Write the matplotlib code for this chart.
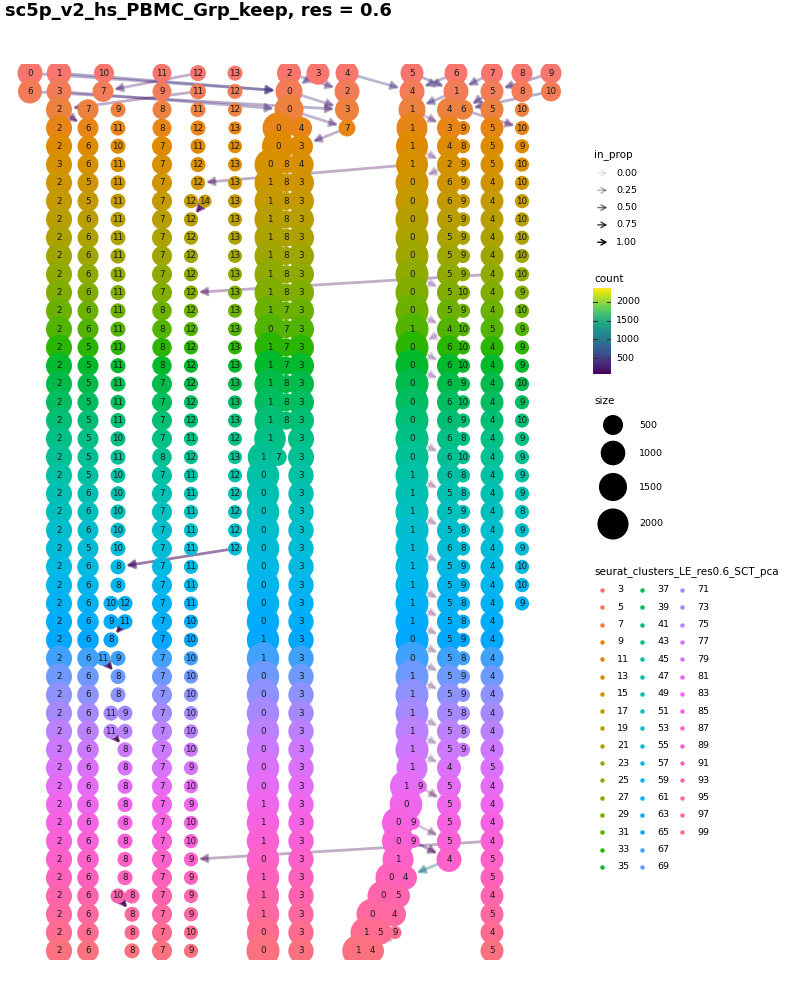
import numpy as np
import matplotlib
matplotlib.use("Agg")
import matplotlib.pyplot as plt
from matplotlib.patches import FancyArrowPatch
from matplotlib.colors import Normalize
from matplotlib.colorbar import ColorbarBase

# ---- data (one row per clustering run, top to bottom) ----
row_names = [str(v) for v in range(3, 100, 2)]

node_labels = [
    ["0", "1", "10", "11", "12", "13", "2", "3", "4", "5", "6", "7", "8", "9"],
    ["6", "3", "7", "9", "11", "12", "0", "2", "4", "1", "5", "8", "10"],
    ["2", "7", "9", "8", "11", "12", "0", "3", "1", "4", "6", "5", "10"],
    ["2", "6", "11", "8", "12", "13", "0", "4", "7", "1", "3", "9", "5", "10"],
    ["2", "6", "10", "7", "11", "12", "0", "3", "1", "4", "8", "5", "9"],
    ["3", "6", "11", "7", "12", "13", "0", "8", "4", "1", "2", "9", "5", "10"],
    ["2", "5", "11", "7", "12", "13", "1", "8", "3", "0", "6", "9", "4", "10"],
    ["2", "5", "11", "7", "12", "14", "13", "1", "8", "3", "0", "6", "9", "4", "10"],
    ["2", "6", "11", "7", "12", "13", "1", "8", "3", "0", "5", "9", "4", "10"],
    ["2", "6", "11", "7", "12", "13", "1", "8", "3", "0", "5", "9", "4", "10"],
    ["2", "6", "11", "7", "12", "13", "1", "8", "3", "0", "5", "9", "4", "10"],
    ["2", "6", "11", "7", "12", "13", "1", "8", "3", "0", "5", "9", "4", "10"],
    ["2", "6", "11", "7", "12", "13", "1", "8", "3", "0", "5", "10", "4", "9"],
    ["2", "6", "11", "8", "12", "13", "1", "7", "3", "0", "5", "9", "4", "10"],
    ["2", "6", "11", "8", "12", "13", "0", "7", "3", "1", "4", "10", "5", "9"],
    ["2", "5", "11", "8", "12", "13", "1", "7", "3", "0", "6", "10", "4", "9"],
    ["2", "5", "11", "8", "12", "13", "1", "7", "3", "0", "6", "10", "4", "9"],
    ["2", "5", "11", "7", "12", "13", "1", "8", "3", "0", "6", "9", "4", "10"],
    ["2", "5", "11", "7", "12", "13", "1", "8", "3", "0", "6", "10", "4", "9"],
    ["2", "5", "11", "7", "12", "13", "1", "8", "3", "0", "6", "9", "4", "10"],
    ["2", "5", "10", "7", "11", "12", "1", "3", "0", "6", "8", "4", "9"],
    ["2", "5", "11", "8", "12", "13", "1", "7", "3", "0", "6", "10", "4", "9"],
    ["2", "5", "10", "7", "11", "12", "0", "3", "1", "6", "8", "4", "9"],
    ["2", "6", "10", "7", "11", "12", "0", "3", "1", "5", "8", "4", "9"],
    ["2", "6", "10", "7", "11", "12", "0", "3", "1", "5", "9", "4", "8"],
    ["2", "6", "10", "7", "11", "12", "0", "3", "1", "5", "8", "4", "9"],
    ["2", "5", "10", "7", "11", "12", "0", "3", "1", "6", "8", "4", "9"],
    ["2", "6", "8", "7", "11", "0", "3", "1", "5", "9", "4", "10"],
    ["2", "6", "8", "7", "11", "0", "3", "1", "5", "9", "4", "10"],
    ["2", "6", "10", "12", "7", "11", "0", "3", "1", "5", "8", "4", "9"],
    ["2", "6", "9", "11", "7", "10", "0", "3", "1", "5", "8", "4"],
    ["2", "6", "8", "7", "10", "1", "3", "0", "5", "9", "4"],
    ["2", "6", "11", "9", "7", "10", "1", "3", "0", "5", "8", "4"],
    ["2", "6", "8", "7", "10", "0", "3", "1", "5", "9", "4"],
    ["2", "6", "8", "7", "10", "0", "3", "1", "5", "9", "4"],
    ["2", "6", "11", "9", "7", "10", "0", "3", "1", "5", "8", "4"],
    ["2", "6", "11", "9", "7", "10", "0", "3", "1", "5", "8", "4"],
    ["2", "6", "8", "7", "10", "0", "3", "1", "5", "9", "4"],
    ["2", "6", "8", "7", "9", "0", "3", "1", "4", "5"],
    ["2", "6", "8", "7", "10", "0", "3", "1", "9", "5", "4"],
    ["2", "6", "8", "7", "9", "1", "3", "0", "5", "4"],
    ["2", "6", "8", "7", "10", "1", "3", "0", "9", "5", "4"],
    ["2", "6", "8", "7", "10", "1", "3", "0", "9", "5", "4"],
    ["2", "6", "8", "7", "9", "0", "3", "1", "4", "5"],
    ["2", "6", "8", "7", "9", "1", "3", "0", "4", "5"],
    ["2", "6", "10", "8", "7", "9", "1", "3", "0", "5", "4"],
    ["2", "6", "8", "7", "9", "1", "3", "0", "4", "5"],
    ["2", "6", "8", "7", "10", "0", "3", "1", "5", "9", "4"],
    ["2", "6", "8", "7", "9", "0", "3", "1", "4", "5"],
]

# layout x of each node (tree layout units)
node_x = [
    [30, 59, 104, 162, 198, 235, 289, 318, 347, 412, 456, 492, 522, 551],
    [30, 59, 103, 162, 198, 235, 289, 347, 412, 456, 492, 522, 551],
    [59, 88, 118, 162, 198, 235, 289, 347, 412, 449, 463, 492, 522],
    [59, 88, 118, 162, 198, 235, 278, 301, 347, 412, 449, 463, 492, 522],
    [59, 88, 118, 162, 198, 235, 278, 301, 412, 449, 463, 492, 522],
    [59, 88, 118, 162, 198, 235, 270, 286, 301, 412, 449, 463, 492, 522],
    [59, 88, 118, 162, 198, 235, 270, 286, 301, 412, 449, 463, 492, 522],
    [59, 88, 118, 162, 191, 205, 235, 270, 286, 301, 412, 449, 463, 492, 522],
    [59, 88, 118, 162, 191, 235, 270, 286, 301, 412, 449, 463, 492, 522],
    [59, 88, 118, 162, 191, 235, 270, 286, 301, 412, 449, 463, 492, 522],
    [59, 88, 118, 162, 191, 235, 270, 286, 301, 412, 449, 463, 492, 522],
    [59, 88, 118, 162, 191, 235, 270, 286, 301, 412, 449, 463, 492, 522],
    [59, 88, 118, 162, 191, 235, 270, 286, 301, 412, 449, 463, 492, 522],
    [59, 88, 118, 162, 191, 235, 270, 286, 301, 412, 449, 463, 492, 522],
    [59, 88, 118, 162, 191, 235, 270, 286, 301, 412, 449, 463, 492, 522],
    [59, 88, 118, 162, 191, 235, 270, 286, 301, 412, 449, 463, 492, 522],
    [59, 88, 118, 162, 191, 235, 270, 286, 301, 412, 449, 463, 492, 522],
    [59, 88, 118, 162, 191, 235, 270, 286, 301, 412, 449, 463, 492, 522],
    [59, 88, 118, 162, 191, 235, 270, 286, 301, 412, 449, 463, 492, 522],
    [59, 88, 118, 162, 191, 235, 270, 286, 301, 412, 449, 463, 492, 522],
    [59, 88, 118, 162, 191, 235, 270, 301, 412, 449, 463, 492, 522],
    [59, 88, 118, 162, 191, 235, 263, 278, 301, 412, 449, 463, 492, 522],
    [59, 88, 118, 162, 191, 235, 263, 301, 412, 449, 463, 492, 522],
    [59, 88, 118, 162, 191, 235, 263, 301, 412, 449, 463, 492, 522],
    [59, 88, 118, 162, 191, 235, 263, 301, 412, 449, 463, 492, 522],
    [59, 88, 118, 162, 191, 235, 263, 301, 412, 449, 463, 492, 522],
    [59, 88, 118, 162, 191, 235, 263, 301, 412, 449, 463, 492, 522],
    [59, 88, 118, 162, 191, 263, 301, 412, 449, 463, 492, 522],
    [59, 88, 118, 162, 191, 263, 301, 412, 449, 463, 492, 522],
    [59, 88, 111, 125, 162, 191, 263, 301, 412, 449, 463, 492, 522],
    [59, 88, 111, 125, 162, 191, 263, 301, 412, 449, 463, 492],
    [59, 88, 111, 162, 191, 263, 301, 412, 449, 463, 492],
    [59, 88, 103, 118, 162, 191, 263, 301, 412, 449, 463, 492],
    [59, 88, 118, 162, 191, 263, 301, 412, 449, 463, 492],
    [59, 88, 118, 162, 191, 263, 301, 412, 449, 463, 492],
    [59, 88, 111, 125, 162, 191, 263, 301, 412, 449, 463, 492],
    [59, 88, 111, 125, 162, 191, 263, 301, 412, 449, 463, 492],
    [59, 88, 125, 162, 191, 263, 301, 412, 449, 463, 492],
    [59, 88, 125, 162, 191, 263, 301, 412, 449, 492],
    [59, 88, 125, 162, 191, 263, 301, 406, 420, 449, 492],
    [59, 88, 125, 162, 191, 263, 301, 406, 449, 492],
    [59, 88, 125, 162, 191, 263, 301, 398, 413, 449, 492],
    [59, 88, 125, 162, 191, 263, 301, 398, 413, 449, 492],
    [59, 88, 125, 162, 191, 263, 301, 398, 449, 492],
    [59, 88, 125, 162, 191, 263, 301, 391, 405, 492],
    [59, 88, 118, 132, 162, 191, 263, 301, 383, 398, 492],
    [59, 88, 132, 162, 191, 263, 301, 372, 394, 492],
    [59, 88, 132, 162, 191, 263, 301, 366, 380, 395, 492],
    [59, 88, 132, 162, 191, 263, 301, 358, 372, 492],
]

node_count = [
    [1050, 1000, 500, 410, 200, 150, 926, 806, 806, 806, 806, 700, 600, 600],
    [930, 1050, 590, 410, 200, 150, 1330, 1050, 1050, 1050, 806, 590, 500],
    [1190, 590, 150, 410, 150, 100, 1650, 926, 1330, 926, 500, 806, 110],
    [1190, 590, 150, 410, 150, 70, 1990, 700, 260, 1990, 926, 110, 806, 110],
    [1190, 590, 150, 500, 150, 100, 2180, 926, 2180, 926, 110, 806, 110],
    [1190, 590, 150, 500, 150, 100, 1990, 350, 1100, 2180, 926, 110, 806, 110],
    [1190, 590, 150, 500, 120, 100, 1990, 350, 1190, 2370, 926, 110, 806, 110],
    [1190, 590, 150, 500, 110, 70, 100, 1990, 350, 1190, 2370, 926, 110, 806, 110],
    [1190, 590, 150, 500, 110, 100, 1990, 350, 1190, 2370, 926, 110, 806, 110],
    [1190, 590, 150, 500, 110, 100, 1990, 350, 1190, 2370, 926, 110, 806, 110],
    [1190, 590, 150, 500, 110, 100, 1990, 350, 1190, 2370, 926, 110, 806, 110],
    [1190, 590, 150, 500, 110, 100, 1990, 350, 1190, 2370, 926, 110, 806, 110],
    [1190, 590, 150, 500, 110, 100, 1990, 350, 1190, 2370, 926, 110, 806, 110],
    [1190, 590, 150, 450, 110, 100, 1990, 350, 1190, 2370, 926, 110, 806, 110],
    [1190, 590, 150, 450, 110, 100, 1990, 350, 1190, 2370, 926, 110, 806, 110],
    [1190, 590, 150, 450, 110, 100, 1990, 350, 1190, 2370, 926, 110, 806, 110],
    [1190, 590, 150, 450, 110, 100, 1990, 350, 1190, 2370, 926, 110, 806, 110],
    [1190, 590, 150, 500, 110, 100, 1990, 350, 1190, 2370, 926, 110, 806, 110],
    [1190, 590, 150, 500, 110, 100, 1990, 350, 1190, 2370, 926, 110, 806, 110],
    [1190, 590, 150, 500, 110, 100, 1990, 350, 1190, 2370, 926, 110, 806, 110],
    [1190, 590, 150, 500, 110, 100, 2100, 1190, 2370, 926, 110, 806, 110],
    [1190, 590, 150, 450, 110, 100, 1900, 300, 1190, 2370, 926, 110, 806, 110],
    [1190, 590, 150, 500, 110, 100, 2250, 1100, 2370, 926, 110, 806, 110],
    [1190, 590, 150, 500, 110, 100, 2250, 1100, 2370, 926, 110, 806, 110],
    [1190, 590, 150, 500, 110, 100, 2250, 1100, 2370, 926, 110, 806, 110],
    [1190, 590, 150, 500, 110, 100, 2250, 1100, 2370, 926, 110, 806, 110],
    [1190, 590, 150, 500, 110, 100, 2250, 1100, 2370, 926, 110, 806, 110],
    [1190, 650, 150, 500, 110, 2250, 1100, 2370, 926, 110, 806, 110],
    [1190, 650, 150, 500, 110, 2250, 1100, 2370, 926, 110, 806, 110],
    [1190, 650, 150, 150, 500, 110, 2250, 1100, 2370, 926, 110, 806, 110],
    [1190, 650, 150, 150, 500, 110, 2250, 1100, 2370, 926, 110, 806],
    [1190, 650, 150, 500, 110, 2250, 1100, 2370, 926, 110, 806],
    [1190, 650, 150, 150, 500, 110, 2250, 1100, 2370, 926, 110, 806],
    [1190, 650, 150, 500, 110, 2250, 1100, 2370, 926, 110, 806],
    [1190, 650, 150, 500, 110, 2250, 1100, 2370, 926, 110, 806],
    [1190, 650, 150, 150, 500, 110, 2250, 1100, 2370, 926, 110, 806],
    [1190, 650, 150, 150, 500, 110, 2250, 1100, 2370, 926, 110, 806],
    [1190, 650, 150, 500, 110, 2250, 1100, 2370, 926, 110, 806],
    [1190, 650, 150, 500, 110, 2250, 1100, 1990, 926, 806],
    [1190, 650, 150, 500, 110, 2250, 1100, 2180, 90, 926, 806],
    [1190, 650, 150, 500, 110, 2250, 1100, 2280, 926, 806],
    [1190, 650, 150, 500, 110, 2250, 1100, 2180, 90, 926, 806],
    [1190, 650, 150, 500, 110, 2250, 1100, 2180, 90, 926, 806],
    [1190, 650, 150, 500, 110, 2250, 1100, 1990, 1050, 806],
    [1190, 650, 150, 500, 110, 2250, 1100, 1990, 926, 806],
    [1190, 650, 150, 150, 500, 110, 2250, 1100, 1990, 926, 806],
    [1190, 650, 150, 500, 110, 2250, 1100, 1990, 926, 806],
    [1190, 650, 150, 500, 110, 2250, 1100, 1990, 926, 70, 806],
    [1190, 650, 150, 500, 110, 2370, 1100, 2080, 926, 806],
]

# visible edges: (upper row, upper cluster, lower cluster, cell count, in_prop)
edges = [
    (0, "0", "0", 400, 0.3), (0, "1", "0", 450, 0.35), (0, "12", "7", 150, 0.25),
    (0, "4", "4", 500, 0.3), (0, "9", "5", 350, 0.3), (0, "7", "1", 350, 0.3),
    (0, "6", "4", 450, 0.3), (0, "5", "1", 400, 0.3), (0, "2", "2", 300, 0.25),
    (0, "3", "0", 350, 0.25), (1, "6", "3", 300, 0.3), (1, "3", "0", 350, 0.3),
    (1, "11", "2", 100, 0.25), (1, "10", "6", 300, 0.3), (1, "0", "3", 300, 0.25),
    (1, "5", "6", 300, 0.3), (1, "1", "1", 400, 0.3), (2, "2", "6", 120, 0.3),
    (2, "1", "3", 200, 0.2), (2, "0", "7", 250, 0.25), (2, "6", "10", 150, 0.25),
    (3, "7", "3", 150, 0.25), (4, "1", "2", 150, 0.1), (5, "1", "12", 80, 0.25),
    (5, "2", "0", 120, 0.1), (7, "14", "12", 60, 0.5), (11, "4", "12", 80, 0.25),
    (11, "0", "5", 120, 0.06), (13, "0", "4", 120, 0.06), (14, "4", "0", 120, 0.06),
    (15, "0", "6", 120, 0.06), (16, "0", "6", 120, 0.06), (20, "0", "6", 120, 0.06),
    (22, "1", "5", 120, 0.06), (24, "1", "5", 120, 0.06), (26, "12", "8", 150, 0.5),
    (26, "1", "5", 120, 0.06), (28, "1", "5", 120, 0.06), (29, "1", "5", 120, 0.06),
    (30, "1", "5", 120, 0.06), (30, "11", "8", 60, 0.6), (31, "0", "5", 120, 0.06),
    (32, "0", "5", 120, 0.06), (32, "11", "8", 60, 0.6), (33, "1", "5", 120, 0.06),
    (35, "1", "5", 120, 0.06), (36, "1", "5", 120, 0.06), (36, "11", "8", 60, 0.6),
    (37, "1", "4", 120, 0.06), (39, "9", "5", 80, 0.15), (41, "9", "5", 80, 0.15),
    (42, "9", "4", 90, 0.3), (42, "4", "9", 80, 0.25), (43, "4", "4", 1000, 0.35),
    (45, "10", "8", 60, 0.6), (47, "9", "4", 60, 0.15),
]

size_breaks = [500, 1000, 1500, 2000]
count_breaks = [500, 1000, 1500, 2000]
prop_breaks = [0.00, 0.25, 0.50, 0.75, 1.00]
count_range = (75, 2370)

W, H, DPI = 800, 1000, 100


def hcl_color(h, c=100.0, l=65.0):
    # ggplot2 default hue palette colour (polar LUV -> sRGB)
    hr = np.deg2rad(h)
    u, v = c * np.cos(hr), c * np.sin(hr)
    xn, yn, zn = 95.047, 100.0, 108.883
    y = yn * ((l + 16) / 116) ** 3
    den = xn + 15 * yn + 3 * zn
    up = u / (13 * l) + 4 * xn / den
    vp = v / (13 * l) + 9 * yn / den
    x = y * 9 * up / (4 * vp)
    z = y * (12 - 3 * up - 20 * vp) / (4 * vp)
    m = np.array([[3.2404542, -1.5371385, -0.4985314],
                  [-0.9692660, 1.8760108, 0.0415560],
                  [0.0556434, -0.2040259, 1.0572252]])
    rgb = m @ (np.array([x, y, z]) / 100.0)
    rgb = np.where(rgb <= 0.0031308, 12.92 * rgb, 1.055 * np.clip(rgb, 0, None) ** (1 / 2.4) - 0.055)
    return tuple(np.clip(rgb, 0, 1))


def diam_px(count):
    return 9 + 0.493 * np.sqrt(count)


def pt2(d):
    # scatter size for a marker d pixels across
    return (d * 72 / DPI) ** 2


n_rows = len(row_names)
row_cols = [hcl_color(15 + 360 * i / n_rows) for i in range(n_rows)]

fig = plt.figure(figsize=(W / DPI, H / DPI), dpi=DPI)

# overlay in pixel units for title and legends
lax = fig.add_axes([0, 0, 1, 1])
lax.set_xlim(0, W)
lax.set_ylim(H, 0)
lax.axis("off")

ax = fig.add_axes([0, 0.04, 1, 0.896])
ax.set_xlim(0, W)
ax.set_ylim(n_rows - 0.5, -0.5)
ax.axis("off")

lookup = {}
for r in range(n_rows):
    for lab, x, c in zip(node_labels[r], node_x[r], node_count[r]):
        lookup[(r, lab)] = (x, c)

# edges
cmap = plt.get_cmap("viridis")
norm = Normalize(*count_range)
for r, a, b, cnt, prop in edges:
    xa, ca = lookup[(r, a)]
    xb, cb = lookup[(r + 1, b)]
    arr = FancyArrowPatch((xa, r), (xb, r + 1),
                          arrowstyle="-|>,head_length=0.45,head_width=0.25",
                          mutation_scale=10, lw=2.0,
                          color=cmap(norm(cnt)), alpha=0.1 + 0.9 * prop,
                          shrinkA=diam_px(ca) * 0.36, shrinkB=diam_px(cb) * 0.36 + 0.5,
                          zorder=1)
    ax.add_patch(arr)

# nodes
for r in range(n_rows):
    xs = node_x[r]
    sizes = [pt2(diam_px(c)) for c in node_count[r]]
    ax.scatter(xs, [r] * len(xs), s=sizes, color=row_cols[r], linewidths=0, zorder=2)
    for lab, x in zip(node_labels[r], xs):
        ax.text(x, r, lab, ha="center", va="center", fontsize=6.3, color="#1a1a1a", zorder=3)

lax.text(5, 2, "sc5p_v2_hs_PBMC_Grp_keep, res = 0.6", fontsize=13,
         fontweight="bold", ha="left", va="top")

# legend: in_prop
lax.text(594, 155, "in_prop", fontsize=7.5, va="center")
for i, p in enumerate(prop_breaks):
    yy = 173 + i * 17.3
    lax.add_patch(FancyArrowPatch((595, yy), (610, yy),
                                  arrowstyle="->,head_length=0.35,head_width=0.2",
                                  mutation_scale=10, lw=1.0, color="black",
                                  alpha=0.1 + 0.9 * p))
    lax.text(616, yy, f"{p:.2f}", fontsize=6.8, va="center")

# legend: count colourbar
lax.text(594, 279, "count", fontsize=7.5, va="center")
cax = fig.add_axes([593 / W, 1 - 374 / H, 18 / W, 86 / H])
cb = ColorbarBase(cax, cmap=cmap, norm=norm, orientation="vertical")
cb.outline.set_visible(False)
cb.set_ticks([])
for t in count_breaks:
    cax.plot([0, 0.2], [t, t], color="#333333", lw=0.8, transform=cax.get_yaxis_transform())
    cax.plot([0.8, 1], [t, t], color="#333333", lw=0.8, transform=cax.get_yaxis_transform())
    lax.text(616, 374 - (t - count_range[0]) / (count_range[1] - count_range[0]) * 86,
             str(t), fontsize=6.8, va="center")

# legend: size
lax.text(594, 401, "size", fontsize=7.5, va="center")
size_y = [425, 453, 487, 524]
lax.scatter([613] * len(size_breaks), size_y,
            s=[pt2(diam_px(s)) for s in size_breaks], color="black", linewidths=0)
for s, yy in zip(size_breaks, size_y):
    lax.text(639, yy, str(s), fontsize=6.8, va="center")

# legend: clusters (row colours)
lax.text(594, 572, "seurat_clusters_LE_res0.6_SCT_pca", fontsize=7.5, va="center")
for i, name in enumerate(row_names):
    col, k = divmod(i, 17)
    dx = 602 + col * 40
    yy = 590 + k * 17.3
    lax.scatter([dx], [yy], s=pt2(4.5), color=row_cols[i], linewidths=0)
    lax.text(dx + 15, yy, name, fontsize=6.8, va="center")

fig.savefig("out.png", dpi=DPI)
